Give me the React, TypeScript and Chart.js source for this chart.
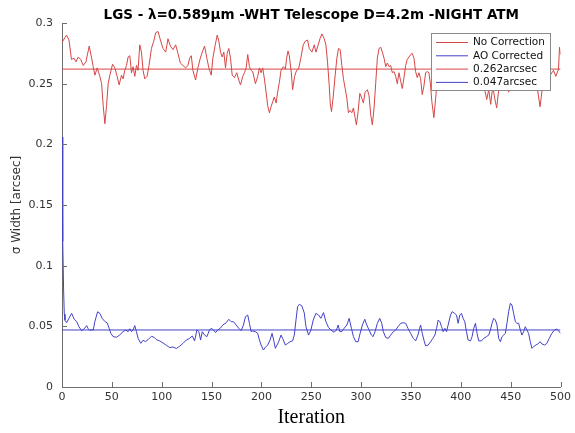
import React, { useEffect, useRef } from "react";
import { Chart, registerables } from "chart.js";

Chart.register(...registerables);

const TITLE = "LGS - \u03bb=0.589\u03bcm -WHT Telescope D=4.2m -NIGHT ATM";
const X_LABEL = "Iteration";
const Y_LABEL = "\u03c3 Width [arcsec]";

const seriesLabels = ["No Correction", "AO Corrected", "0.262arcsec", "0.047arcsec"];
const noCorrMean = 0.262;
const aoMean = 0.047;

const noCorrIter = [
  0, 1.5, 4.5, 7, 9.5, 12, 14, 16.3, 18.7, 21.3, 24, 27.3, 29.7, 31.3, 33, 35.3, 38, 39.7, 41.3, 43, 44.7, 46.3, 48,
  50.7, 53, 55.3, 57.3, 59.7, 61.3, 63, 64.7, 66.3, 68, 69.7, 71.3, 73, 74.7, 76.3, 78, 79.7, 81.3, 83, 85.3, 87.3,
  89.7, 92, 94, 96.3, 98.7, 101.3, 104, 106.3, 108.7, 111.3, 114, 116.3, 118.7, 121.3, 124, 126.3, 128, 129.7, 131.3,
  134, 136.3, 138.7, 140.7, 143, 145.3, 147.3, 149.7, 151.3, 153.7, 155.7, 157.3, 159, 160.7, 162.3, 164, 165.7, 167.3,
  169, 170.7, 173, 175.3, 177.3, 179, 181.3, 183, 184.7, 186.3, 188, 189.7, 191.3, 194, 196.3, 198, 199.7, 201.3, 203,
  204.7, 206.3, 208, 209.7, 211.3, 213, 214.7, 216.3, 218, 219.7, 222, 224, 225.3, 226.7, 228, 230, 231.3, 233.3, 235.3,
  237.3, 239.5, 242, 244, 246.3, 248, 250.7, 253, 254.7, 257, 258.7, 260.7, 263, 264.7, 266.3, 268, 269, 270.3, 272,
  274, 275.7, 277.3, 279, 280.7, 282.3, 284, 285.7, 287.3, 289, 290.7, 292.3, 294, 295.3, 297, 298.7, 300.7, 302.3, 304,
  306.3, 308, 309.7, 311.3, 313, 314.7, 316.3, 318, 319.7, 321.3, 323, 324.7, 326.3, 328, 329.7, 331.3, 333, 334.7,
  336.3, 338, 339.7, 341.3, 343, 344.7, 346.3, 348, 349.7, 351.3, 353, 354.7, 356.3, 358, 359.7, 361.3, 363, 364.7,
  366.3, 368, 369.5, 371, 373, 375, 377, 380, 383, 386, 389, 392, 395, 398, 401, 404, 407, 410, 413, 416, 419, 422, 424,
  426, 428, 430, 432, 434, 436, 438, 440, 443, 446, 448, 450, 453, 456, 459, 462, 465, 468, 471, 474, 477, 479.5, 482,
  485, 487, 489.7, 493, 495.3, 498, 499, 500,
];
const noCorrVal = [
  0.284, 0.286, 0.29, 0.286, 0.27, 0.271, 0.268, 0.272, 0.27, 0.265, 0.268, 0.281, 0.271, 0.264, 0.257, 0.263, 0.256,
  0.25, 0.232, 0.217, 0.232, 0.25, 0.257, 0.266, 0.263, 0.256, 0.249, 0.257, 0.254, 0.261, 0.265, 0.272, 0.273, 0.259,
  0.264, 0.256, 0.265, 0.261, 0.282, 0.276, 0.261, 0.254, 0.256, 0.265, 0.279, 0.285, 0.292, 0.293, 0.286, 0.279, 0.276,
  0.287, 0.281, 0.278, 0.282, 0.275, 0.267, 0.265, 0.263, 0.265, 0.271, 0.273, 0.261, 0.253, 0.263, 0.271, 0.276, 0.281,
  0.271, 0.263, 0.257, 0.271, 0.282, 0.29, 0.285, 0.276, 0.272, 0.276, 0.263, 0.275, 0.279, 0.271, 0.257, 0.255, 0.259,
  0.253, 0.249, 0.256, 0.259, 0.263, 0.274, 0.264, 0.261, 0.26, 0.25, 0.256, 0.263, 0.259, 0.263, 0.254, 0.243, 0.232,
  0.226, 0.231, 0.235, 0.239, 0.234, 0.243, 0.251, 0.261, 0.264, 0.262, 0.271, 0.277, 0.273, 0.259, 0.245, 0.256, 0.261,
  0.262, 0.271, 0.282, 0.285, 0.286, 0.279, 0.276, 0.282, 0.276, 0.282, 0.287, 0.291, 0.287, 0.282, 0.268, 0.249, 0.234,
  0.227, 0.239, 0.257, 0.271, 0.279, 0.278, 0.265, 0.254, 0.246, 0.238, 0.226, 0.228, 0.226, 0.23, 0.222, 0.216, 0.227,
  0.242, 0.238, 0.234, 0.243, 0.245, 0.24, 0.224, 0.216, 0.23, 0.251, 0.271, 0.279, 0.28, 0.276, 0.271, 0.264, 0.267,
  0.264, 0.265, 0.259, 0.26, 0.256, 0.25, 0.259, 0.252, 0.246, 0.255, 0.265, 0.27, 0.272, 0.274, 0.275, 0.271, 0.26,
  0.255, 0.259, 0.254, 0.241, 0.248, 0.259, 0.26, 0.259, 0.25, 0.235, 0.222, 0.24, 0.262, 0.27, 0.262, 0.275, 0.268,
  0.258, 0.265, 0.272, 0.262, 0.255, 0.262, 0.27, 0.265, 0.258, 0.266, 0.258, 0.245, 0.237, 0.245, 0.233, 0.248, 0.238,
  0.23, 0.245, 0.262, 0.27, 0.258, 0.243, 0.258, 0.272, 0.265, 0.275, 0.268, 0.26, 0.27, 0.262, 0.255, 0.245, 0.231,
  0.248, 0.262, 0.258, 0.257, 0.261, 0.256, 0.262, 0.28, 0.274,
];

const aoIter = [
  0, 0.5, 1, 1.6, 2.3, 3, 4.7, 7, 9.7, 12.3, 14.7, 17, 19.7, 22.3, 24.7, 26.3, 28, 29.7, 31.3, 33, 35.7, 38, 40.3, 43,
  45.3, 47.3, 49, 51.3, 54.7, 58, 61.3, 64, 66.3, 68, 69.7, 71.3, 73, 74.7, 76.3, 79, 81.3, 83.7, 86.3, 89.7, 92.3, 94.7,
  98, 101.3, 104.7, 108, 111.3, 114.7, 118, 121.3, 124.7, 128, 130.7, 133, 135.3, 137.3, 139, 140.7, 143, 145.3, 148,
  149.7, 152, 154, 156.3, 158.7, 161.3, 164.7, 167.3, 169.7, 172, 174.7, 177.3, 179.7, 182, 184, 186.3, 188, 189.7,
  191.3, 194, 196.3, 198, 199.7, 202, 204, 206.3, 208.7, 210.7, 212.3, 214, 215.7, 217.3, 219.7, 221.3, 224, 226.3,
  228.7, 231.3, 233, 234.7, 236.3, 238, 240.5, 243, 244.7, 247.3, 249.7, 252, 254.7, 257.3, 259.7, 262.3, 264.7, 267.3,
  269.7, 273, 275.3, 277, 278.7, 280.7, 283, 285.7, 288, 290.3, 292.3, 294.7, 297, 299, 301.3, 303.7, 305.7, 308, 310.3,
  312, 314, 316.3, 318.7, 320.7, 322.3, 324.7, 327.3, 329.7, 332.3, 334.7, 337, 339.7, 342.3, 344.7, 347, 349.7, 352.3,
  354.7, 357, 358.7, 359.7, 361.3, 363, 364.7, 367.3, 369.7, 372, 374, 375.7, 377.3, 379, 380.7, 382.3, 384, 385.7,
  387.3, 389.7, 391.3, 393.7, 395.7, 397.3, 399, 400.7, 402.3, 404, 405.7, 407.3, 409.7, 411.3, 413, 414.7, 416.3, 418,
  420.7, 423, 425.7, 428, 429.7, 431.3, 433, 434.7, 436.3, 438, 439.7, 441.3, 443, 444.7, 446.3, 448, 449.7, 451.3, 453,
  454.7, 456.3, 458, 459.7, 461.3, 463, 464.7, 466.3, 468, 469.7, 471.3, 473, 475.3, 477.3, 479.7, 481.3, 484, 486.3,
  488.7, 491.3, 494, 496.3, 498, 500,
];
const aoVal = [
  0.206, 0.17, 0.12, 0.08, 0.06, 0.055, 0.053, 0.0566, 0.0607, 0.0558, 0.054, 0.0497, 0.0464, 0.048, 0.0506, 0.048,
  0.0466, 0.0472, 0.0469, 0.054, 0.062, 0.0607, 0.0566, 0.054, 0.0528, 0.0484, 0.0442, 0.0415, 0.041, 0.043, 0.0456,
  0.047, 0.0456, 0.048, 0.0456, 0.047, 0.0506, 0.0456, 0.0401, 0.036, 0.0385, 0.0374, 0.039, 0.0418, 0.041, 0.039, 0.038,
  0.0363, 0.0344, 0.0325, 0.033, 0.0317, 0.0336, 0.0359, 0.0387, 0.0401, 0.042, 0.038, 0.047, 0.0456, 0.0387, 0.0456,
  0.0428, 0.0415, 0.047, 0.0484, 0.047, 0.0448, 0.047, 0.0484, 0.0511, 0.053, 0.0558, 0.0538, 0.0538, 0.0511, 0.0484,
  0.0464, 0.0511, 0.058, 0.0593, 0.0525, 0.0456, 0.0462, 0.0456, 0.0442, 0.0387, 0.0346, 0.0305, 0.0327, 0.0346, 0.0387,
  0.0442, 0.0387, 0.0319, 0.0346, 0.0373, 0.0428, 0.0401, 0.0346, 0.0359, 0.0373, 0.038, 0.0428, 0.0552, 0.0662, 0.0681,
  0.067, 0.061, 0.0497, 0.0428, 0.047, 0.0552, 0.0607, 0.0593, 0.0566, 0.0613, 0.0538, 0.0491, 0.047, 0.0451, 0.047,
  0.0511, 0.0456, 0.0458, 0.0484, 0.0511, 0.0566, 0.0484, 0.0415, 0.0373, 0.0373, 0.0442, 0.0511, 0.0558, 0.0511, 0.047,
  0.0428, 0.0415, 0.0456, 0.0525, 0.0566, 0.0525, 0.0456, 0.0408, 0.0401, 0.0428, 0.0456, 0.047, 0.0497, 0.0525, 0.053,
  0.0525, 0.0484, 0.0442, 0.0401, 0.038, 0.0428, 0.0484, 0.0511, 0.0443, 0.0387, 0.0339, 0.0346, 0.0373, 0.0401, 0.0428,
  0.0484, 0.0552, 0.0538, 0.0497, 0.0456, 0.0484, 0.0456, 0.0511, 0.0593, 0.0621, 0.0607, 0.0593, 0.0525, 0.0593,
  0.0607, 0.0566, 0.0538, 0.0456, 0.0387, 0.038, 0.0415, 0.0484, 0.0525, 0.0442, 0.038, 0.038, 0.0401, 0.0415, 0.0428,
  0.047, 0.0525, 0.0566, 0.0552, 0.0511, 0.0401, 0.0373, 0.0415, 0.0428, 0.0442, 0.0525, 0.0621, 0.069, 0.0676, 0.0607,
  0.0538, 0.0525, 0.0525, 0.047, 0.0428, 0.0456, 0.0497, 0.047, 0.0442, 0.0373, 0.0319, 0.0332, 0.0346, 0.0355, 0.0373,
  0.0355, 0.0346, 0.0359, 0.0401, 0.0442, 0.047, 0.0477, 0.0464, 0.0442,
];

const X_MIN = 0;
const X_MAX = 500;
const X_STEP = 50;
const Y_MIN = 0;
const Y_MAX = 0.3;
const Y_STEP = 0.05;

const RED = "rgb(214,70,70)";
const BLUE = "rgb(66,66,200)";
const AXIS = "#6e6e6e";
const TEXT = "#333333";
const FONT = '"DejaVu Sans", sans-serif';

const decorPlugin = {
  id: "decor",
  afterDraw(chart: any) {
    const { ctx, chartArea: ca, scales } = chart;
    const xs = scales.x;
    const ys = scales.y;
    ctx.save();
    // inward tick marks
    ctx.strokeStyle = AXIS;
    ctx.lineWidth = 1;
    xs.ticks.forEach((t: any) => {
      const px = Math.round(xs.getPixelForValue(t.value)) + 0.5;
      ctx.beginPath();
      ctx.moveTo(px, ca.bottom);
      ctx.lineTo(px, ca.bottom - 5);
      ctx.stroke();
    });
    ys.ticks.forEach((t: any) => {
      const py = Math.round(ys.getPixelForValue(t.value)) + 0.5;
      ctx.beginPath();
      ctx.moveTo(ca.left, py);
      ctx.lineTo(ca.left + 5, py);
      ctx.stroke();
    });
    // title
    ctx.fillStyle = "#000";
    ctx.font = `bold 13.5px ${FONT}`;
    ctx.textAlign = "center";
    ctx.textBaseline = "middle";
    ctx.fillText(TITLE, (ca.left + ca.right) / 2, 15);
    // legend
    const bx = 431.5;
    const by = 33.5;
    const bw = 119;
    const bh = 57;
    ctx.fillStyle = "#fff";
    ctx.fillRect(bx, by, bw, bh);
    ctx.strokeStyle = "#8a8a8a";
    ctx.strokeRect(bx, by, bw, bh);
    ctx.font = `10.5px ${FONT}`;
    ctx.textAlign = "left";
    ctx.fillStyle = "#111";
    chart.data.datasets.forEach((ds: any, i: number) => {
      const cy = 42.5 + i * 13.3;
      ctx.strokeStyle = ds.borderColor;
      ctx.beginPath();
      ctx.moveTo(436, cy);
      ctx.lineTo(468, cy);
      ctx.stroke();
      ctx.fillText(ds.label, 473, cy);
    });
    ctx.restore();
  },
};

export default function App() {
  const ref = useRef<HTMLCanvasElement>(null);
  useEffect(() => {
    if (!ref.current) return;
    const toPts = (xs: number[], ys: number[]) => xs.map((x, i) => ({ x, y: ys[i] }));
    const flat = (v: number) => [
      { x: X_MIN, y: v },
      { x: X_MAX, y: v },
    ];
    const common = { pointRadius: 0, borderWidth: 1, tension: 0, fill: false };
    const chart = new Chart(ref.current, {
      type: "line",
      data: {
        datasets: [
          { ...common, label: seriesLabels[0], data: toPts(noCorrIter, noCorrVal), borderColor: RED },
          { ...common, label: seriesLabels[1], data: toPts(aoIter, aoVal), borderColor: BLUE },
          { ...common, label: seriesLabels[2], data: flat(noCorrMean), borderColor: RED },
          { ...common, label: seriesLabels[3], data: flat(aoMean), borderColor: BLUE },
        ],
      },
      options: {
        responsive: false,
        animation: false,
        layout: { padding: { top: 23, right: 12, left: 0, bottom: 0 } },
        plugins: { legend: { display: false }, title: { display: false }, tooltip: { enabled: false } },
        scales: {
          x: {
            type: "linear",
            min: X_MIN,
            max: X_MAX,
            grid: { display: false, drawTicks: false },
            border: { display: true, color: AXIS, width: 1 },
            ticks: { stepSize: X_STEP, color: TEXT, font: { family: FONT, size: 11 }, padding: 4, maxRotation: 0 },
            title: {
              display: true,
              text: X_LABEL,
              color: "#000",
              font: { family: '"Liberation Serif", serif', size: 20 },
              padding: { top: 0, bottom: 3 },
            },
            afterFit: (s: any) => {
              s.height = 46;
            },
          },
          y: {
            min: Y_MIN,
            max: Y_MAX,
            grid: { display: false, drawTicks: false },
            border: { display: true, color: AXIS, width: 1 },
            ticks: {
              stepSize: Y_STEP,
              color: TEXT,
              font: { family: FONT, size: 11 },
              padding: 9,
              callback: (v: any) => String(parseFloat(Number(v).toFixed(4))),
            },
            title: {
              display: true,
              text: Y_LABEL,
              color: TEXT,
              font: { family: FONT, size: 12 },
              padding: { top: 10, bottom: 0 },
            },
            afterFit: (s: any) => {
              s.width = 62;
            },
          },
        },
      },
      plugins: [decorPlugin],
    });
    return () => chart.destroy();
  }, []);
  return (
    <div style={{ position: "absolute", left: 0, top: 0, width: 575, height: 433, background: "#fff" }}>
      <canvas ref={ref} width={575} height={433} />
    </div>
  );
}
